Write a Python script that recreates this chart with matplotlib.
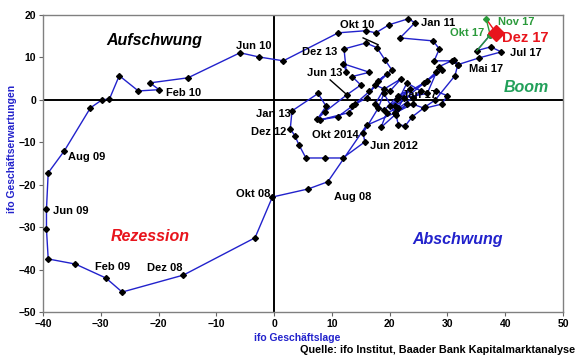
import matplotlib
matplotlib.use("Agg")
import matplotlib.pyplot as plt

plt.rcParams['font.family'] = ['Liberation Sans', 'DejaVu Sans']
plt.rcParams['font.weight'] = 'bold'

# ifo Geschäftslage (x) und Geschäftserwartungen (y), Jan 2008 - Dez 2017
lage = [
    28.0, 30.0, 29.0, 26.0, 24.0, 21.0, 16.0, 9.3, 5.9, -0.3, -3.3, -15.7,          # 2008
    -26.3, -29.1, -34.4, -39.1, -39.4, -39.4, -39.1, -36.3, -31.8, -29.8, -28.5, -26.8,  # 2009
    -23.5, -19.9, -21.5, -14.9, -5.9, -2.6, 1.6, 11.1, 15.9, 17.6, 19.9, 23.2,     # 2010
    24.4, 21.8, 27.5, 28.6, 27.7, 30.8, 31.8, 31.3, 27.9, 26.1, 23.9, 22.7,        # 2011
    21.5, 21.1, 19.0, 18.0, 15.4, 15.7, 11.9, 8.8, 5.5, 4.3, 3.6, 2.8,             # 2012
    3.1, 7.6, 9.0, 7.5, 8.8, 12.6, 15.0, 13.5, 16.5, 12.0, 12.5, 12.1,             # 2013
    15.9, 17.8, 19.2, 20.4, 18.0, 19.5, 16.5, 14.0, 13.0, 8.0, 11.0, 13.5,         # 2014
    16.0, 17.5, 20.0, 22.0, 19.0, 17.5, 19.0, 21.5, 23.5, 20.0, 22.5, 21.0,        # 2015
    23.0, 18.5, 19.5, 21.5, 24.0, 25.5, 23.0, 21.0, 26.0, 28.0, 29.0, 26.5,        # 2016
    21.3, 26.5, 28.5, 31.2, 31.8, 35.5, 39.3, 37.5, 35.1, 37.4, 36.7, 38.4,        # 2017
]
erwartung = [
    2.0, 1.0, -1.0, -2.0, -1.0, -3.0, -6.0, -19.3, -21.0, -22.9, -32.5, -41.3,
    -45.3, -42.0, -38.7, -37.5, -30.5, -25.8, -17.2, -12.0, -1.9, 0.0, 0.2, 5.7,
    2.1, 2.4, 4.0, 5.2, 11.1, 10.1, 9.2, 15.8, 16.3, 15.8, 17.7, 19.1,
    18.2, 14.6, 13.9, 12.0, 9.2, 9.2, 8.3, 5.7, 0.0, -1.7, -4.0, -6.1,
    -5.9, -3.5, 1.5, -2.0, -7.8, -9.9, -13.7, -13.7, -13.7, -10.6, -8.5, -6.8,
    -2.6, 1.5, -1.5, -4.5, -2.8, 1.2, 3.5, 5.5, 6.5, 8.5, 6.6, 12.0,
    13.4, 12.3, 9.4, 7.0, 4.5, 6.0, 2.0, -1.0, -3.0, -4.7, -4.0, -1.5,
    0.5, 3.5, 2.0, 5.0, 2.5, -1.0, -2.5, 1.0, 2.5, -1.5, 0.5, -3.0,
    -1.0, -6.5, -3.0, -2.0, 0.5, 2.0, 4.0, -1.5, 4.0, 6.5, 7.0, 4.5,
    0.2, 1.5, 7.8, 9.5, 8.3, 9.9, 11.3, 12.5, 11.6, 15.3, 19.1, 15.8,
]

xticks = [-40, -30, -20, -10, 0, 10, 20, 30, 40, 50]
yticks = [-50, -40, -30, -20, -10, 0, 10, 20]

blue = '#2222cc'
green = '#2a9a3a'
red = '#e8141c'

fig = plt.figure(figsize=(5.8, 3.59), dpi=100)
ax = fig.add_axes([43/580, 1-312/359, 520/580, 297/359])

ax.axhline(0, color='black', lw=1.4, zorder=1)
ax.axvline(0, color='black', lw=1.4, zorder=1)

# Verlauf bis Sep 17
ax.plot(lage[:-2], erwartung[:-2], color=blue, lw=1, marker='D', ms=3,
        mfc='black', mec='black', zorder=3)
# Okt/Nov 17 grün, Dez 17 rot
ax.plot(lage[-4:-1], erwartung[-4:-1], color=green, lw=1, zorder=4)
ax.plot(lage[-3:-1], erwartung[-3:-1], ls='none', marker='D', ms=3,
        color=green, zorder=5)
ax.plot(lage[-2:], erwartung[-2:], color=red, lw=1, zorder=4)
ax.plot(lage[-1], erwartung[-1], marker='D', ms=8, color=red, zorder=6)

ax.set_xlim(-40, 50)
ax.set_ylim(-50, 20)
ax.set_xticks(xticks)
ax.set_yticks(yticks)
ax.tick_params(labelsize=7.5, length=3, color='#666666', pad=2)
for s in ax.spines.values():
    s.set_color('#808080')
    s.set_linewidth(1)

# Quadranten
qs = 11.5
ax.text(-20.8, 13.9, 'Aufschwung', fontsize=qs, style='italic', ha='center', va='center')
ax.text(-21.4, -32.3, 'Rezession', fontsize=qs, style='italic', color=red, ha='center', va='center')
ax.text(31.7, -33, 'Abschwung', fontsize=qs, style='italic', color=blue, ha='center', va='center')
ax.text(43.7, 3.0, 'Boom', fontsize=qs, style='italic', color='#22a05a', ha='center', va='center')

fs = 8
ax.text(-35.6, -13.4, 'Aug 09', fontsize=fs, ha='left', va='center')
ax.text(-38.2, -26.2, 'Jun 09', fontsize=fs, ha='left', va='center')
ax.text(-27.9, -39.4, 'Feb 09', fontsize=fs, ha='center', va='center')
ax.text(-18.9, -39.6, 'Dez 08', fontsize=fs, ha='center', va='center')
ax.text(-0.7, -22.2, 'Okt 08', fontsize=fs, ha='right', va='center')
ax.text(10.4, -22.9, 'Aug 08', fontsize=fs, ha='left', va='center')
ax.text(16.6, -10.8, 'Jun 2012', fontsize=fs, ha='left', va='center')
ax.text(10.6, -8.3, 'Okt 2014', fontsize=fs, ha='center', va='center')
ax.text(2.2, -7.5, 'Dez 12', fontsize=fs, ha='right', va='center')
ax.text(2.8, -3.3, 'Jan 13', fontsize=fs, ha='right', va='center')
ax.text(8.8, 6.4, 'Jun 13', fontsize=fs, ha='center', va='center')
ax.text(7.9, 11.3, 'Dez 13', fontsize=fs, ha='center', va='center')
ax.text(14.4, 17.7, 'Okt 10', fontsize=fs, ha='center', va='center')
ax.text(25.4, 18.2, 'Jan 11', fontsize=fs, ha='left', va='center')
ax.text(-3.5, 12.7, 'Jun 10', fontsize=fs, ha='center', va='center')
ax.text(-18.7, 1.7, 'Feb 10', fontsize=fs, ha='left', va='center')
ax.text(22.1, 1.2, 'Jan 17', fontsize=fs, ha='left', va='center')
ax.text(36.7, 7.3, 'Mai 17', fontsize=fs, ha='center', va='center')
ax.text(40.8, 11.1, 'Jul 17', fontsize=fs, ha='left', va='center')
ax.text(36.3, 15.8, 'Okt 17', fontsize=fs, color=green, ha='right', va='center')
ax.text(38.8, 18.4, 'Nov 17', fontsize=fs, color=green, ha='left', va='center')
ax.text(39.4, 14.6, 'Dez 17', fontsize=10.5, color=red, ha='left', va='center')

# Pfeile
ax.plot([15.4, 18.0], [14.6, 13.0], color='black', lw=1, zorder=2)
ax.plot([9.7, 12.6], [4.7, 1.2], color='black', lw=1, zorder=2)

fig.text(12/580, 0.585, 'ifo Geschäftserwartungen', rotation=90, color=blue,
         fontsize=7.5, ha='center', va='center')
fig.text(297/580, 1-338/359, 'ifo Geschäftslage', color=blue, fontsize=7.5,
         ha='center', va='center')
fig.text(575/580, 1-350/359, 'Quelle: ifo Institut, Baader Bank Kapitalmarktanalyse',
         fontsize=7.8, ha='right', va='center')

fig.savefig('out.png', dpi=100)
